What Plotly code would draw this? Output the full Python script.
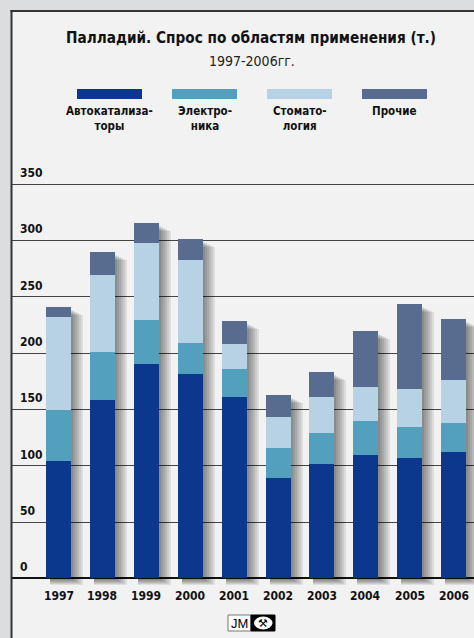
import plotly.graph_objects as go

# ---------------- data ----------------
years = ["1997", "1998", "1999", "2000", "2001", "2002", "2003", "2004", "2005", "2006"]
autocat = [104, 158, 190, 181.5, 161, 89, 101.5, 109.5, 107, 111.5]
electronics = [45, 43, 39, 27.5, 25, 26.5, 27.5, 29.5, 27.5, 26.5]
dental = [83, 68, 68, 73.5, 22, 27.5, 32, 31, 33.5, 38]
other = [9, 20, 18, 18.5, 20, 19.5, 22, 49.5, 75.5, 54]
series_names = ["Автокатализа-<br>торы", "Электро-<br>ника", "Стомато-<br>логия", "Прочие"]
series_colors = ["#0b388c", "#53a0be", "#b6d2e4", "#576c8e"]
y_ticks = [0, 50, 100, 150, 200, 250, 300, 350]

title = "Палладий. Спрос по областям применения (т.)"
subtitle = "1997-2006гг."

W, H = 474, 638
FONT = "DejaVu Sans Condensed, Liberation Sans Narrow, sans-serif"

def X(px):
    return px / W

def Y(py):
    return 1 - py / H

# axis geometry (pixels)
x_left_px = 12
bar_step_px = 43.9
first_center_px = 58.5
bar_w_px = 25
y_zero_px = 578.4
px_per_unit = 1.1267
y_min, y_max = -12, 356

x_range = [-(first_center_px - x_left_px) / bar_step_px, (W - first_center_px) / bar_step_px]
plot_bottom_px = y_zero_px - y_min * px_per_unit
plot_top_px = y_zero_px - y_max * px_per_unit

xs = list(range(len(years)))
series = [autocat, electronics, dental, other]
totals = [sum(v) for v in zip(*series)]

fig = go.Figure()

# shadows (layered translucent bars)
for k in range(6):
    ext = 2 + 2 * k
    top_off = (3 + k) / px_per_unit
    bot_off = (2 + k) / px_per_unit
    start = (-bar_w_px / 2 + 4) / bar_step_px
    width = (bar_w_px - 4 + ext) / bar_step_px
    fig.add_trace(go.Bar(
        x=xs, y=[t - top_off + bot_off for t in totals], base=[-bot_off] * len(xs),
        offset=start, width=width,
        marker=dict(color="rgba(0,0,0,0.085)", line=dict(width=0)),
        showlegend=False, hoverinfo="skip",
    ))

# stacked bars built via base
cum = [0] * len(xs)
for name, vals, col in zip(series_names, series, series_colors):
    fig.add_trace(go.Bar(
        x=xs, y=vals, base=list(cum), width=bar_w_px / bar_step_px,
        marker=dict(color=col, line=dict(width=0)),
        name=name.replace("<br>", ""), showlegend=False,
    ))
    cum = [c + v for c, v in zip(cum, vals)]

shapes = []
annotations = []

# outer grey border and frame
shapes.append(dict(type="rect", xref="paper", yref="paper", x0=X(0), x1=X(11), y0=Y(H), y1=Y(0),
                   fillcolor="#dcdddf", line=dict(width=0), layer="above"))
shapes.append(dict(type="rect", xref="paper", yref="paper", x0=X(0), x1=X(W), y0=Y(10), y1=Y(0),
                   fillcolor="#dcdddf", line=dict(width=0), layer="above"))
shapes.append(dict(type="line", xref="paper", yref="paper", x0=X(11.5), x1=X(11.5), y0=Y(10), y1=Y(H),
                   line=dict(color="#333333", width=2), layer="above"))
shapes.append(dict(type="line", xref="paper", yref="paper", x0=X(10.5), x1=X(W), y0=Y(11), y1=Y(11),
                   line=dict(color="#333333", width=2), layer="above"))

# title
annotations.append(dict(text="<b>" + title + "</b>", xref="paper", yref="paper", x=X(251), y=Y(38.5),
                        xanchor="center", yanchor="middle", showarrow=False,
                        font=dict(family=FONT, size=15.2, color="#111111")))
annotations.append(dict(text=subtitle, xref="paper", yref="paper", x=X(252), y=Y(61),
                        xanchor="center", yanchor="middle", showarrow=False,
                        font=dict(family=FONT, size=14, color="#222222")))

# legend
for i, (name, col) in enumerate(zip(series_names, series_colors)):
    x0 = 77 + 95 * i
    shapes.append(dict(type="rect", xref="paper", yref="paper", x0=X(x0), x1=X(x0 + 65), y0=Y(99), y1=Y(89),
                       fillcolor=col, line=dict(width=0)))
    annotations.append(dict(text="<b>" + name + "</b>", xref="paper", yref="paper", x=X(x0 + 32.5), y=Y(102),
                            xanchor="center", yanchor="top", showarrow=False, align="center",
                            font=dict(family=FONT, size=11.5, color="#111111")))

# y tick labels
for t in y_ticks:
    annotations.append(dict(text="<b>" + str(t) + "</b>", xref="paper", yref="y", x=X(18), y=t,
                            xanchor="left", yanchor="bottom", yshift=2, showarrow=False,
                            font=dict(family=FONT, size=12, color="#111111")))

# x labels
for xi, yr in zip(xs, years):
    annotations.append(dict(text="<b>" + yr + "</b>", xref="x", yref="y", x=xi, y=0,
                            xanchor="center", yanchor="top", yshift=-9, showarrow=False,
                            font=dict(family=FONT, size=12, color="#111111")))

# JM logo
shapes.append(dict(type="rect", xref="paper", yref="paper", x0=X(228), x1=X(251), y0=Y(631), y1=Y(615),
                   fillcolor="#ffffff", line=dict(color="#777777", width=1)))
shapes.append(dict(type="rect", xref="paper", yref="paper", x0=X(251), x1=X(275), y0=Y(631), y1=Y(615),
                   fillcolor="#000000", line=dict(color="#000000", width=1)))
shapes.append(dict(type="circle", xref="paper", yref="paper", x0=X(254), x1=X(272.5), y0=Y(629.5), y1=Y(616.5),
                   fillcolor="#ffffff", line=dict(width=0)))
annotations.append(dict(text="JM", xref="paper", yref="paper", x=X(239.5), y=Y(623), xanchor="center",
                        yanchor="middle", showarrow=False,
                        font=dict(family="Liberation Sans, Arial, sans-serif", size=13, color="#000000")))
annotations.append(dict(text="⚒", xref="paper", yref="paper", x=X(263.3), y=Y(623), xanchor="center",
                        yanchor="middle", showarrow=False,
                        font=dict(family="DejaVu Sans, sans-serif", size=11, color="#000000")))

fig.update_layout(
    width=W, height=H, autosize=False,
    margin=dict(l=0, r=0, t=0, b=0, pad=0),
    paper_bgcolor="#f2f2f2", plot_bgcolor="rgba(0,0,0,0)",
    barmode="overlay", bargap=0,
    showlegend=False,
    xaxis=dict(domain=[X(x_left_px), 1], range=x_range, showgrid=False, zeroline=False,
               showticklabels=False, ticks="", showline=False, fixedrange=True),
    yaxis=dict(domain=[Y(plot_bottom_px), Y(plot_top_px)], range=[y_min, y_max], tickvals=y_ticks,
               showgrid=True, gridcolor="#444444", gridwidth=1,
               zeroline=True, zerolinecolor="#111111", zerolinewidth=2,
               showticklabels=False, ticks="", showline=False, fixedrange=True),
    shapes=shapes, annotations=annotations,
)

fig.write_html("out.html", config={"displayModeBar": False},
               post_script="document.body.style.margin='0';document.body.style.overflow='hidden';")
